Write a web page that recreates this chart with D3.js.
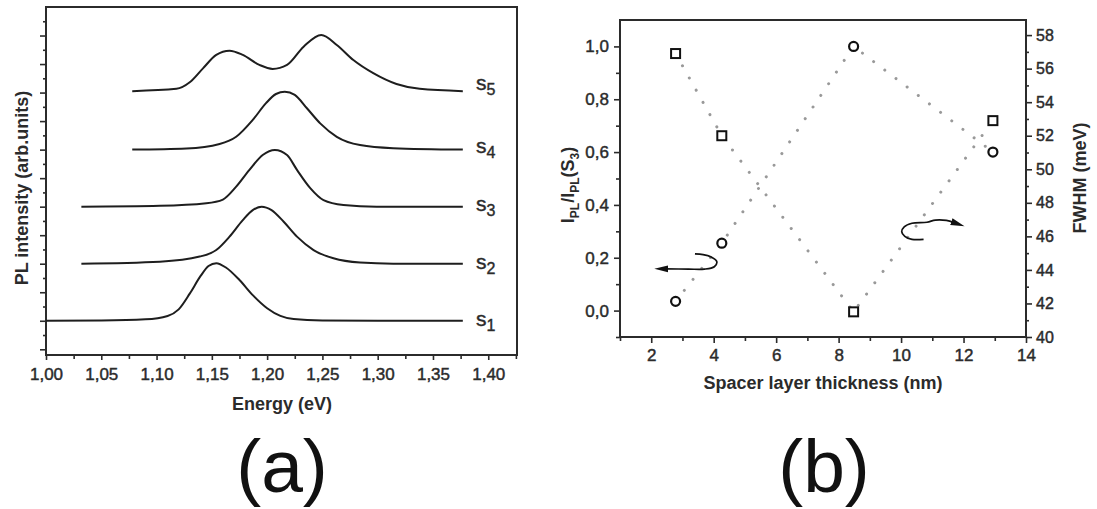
<!DOCTYPE html>
<html>
<head>
<meta charset="utf-8">
<script src="https://cdn.jsdelivr.net/npm/d3@7"></script>
<style>
  body { margin: 0; background: #fff; }
  text { font-family: "Liberation Sans", Arial, sans-serif; }
</style>
</head>
<body>
<div id="chart-area"></div>
<script>
// ---- panel (a): PL spectra, [energy eV, intensity arb.units]
var s1 = [[1.00,1.0],[1.05,1.01],[1.09,1.05],[1.11,1.17],[1.12,1.40],[1.13,1.95],[1.14,2.58],[1.147,2.92],[1.154,3.02],
  [1.163,2.86],[1.175,2.43],[1.187,1.90],[1.20,1.44],[1.212,1.17],[1.224,1.06],[1.25,1.01],[1.30,1.0],[1.377,1.0]]
var s2 = [[1.032,3.0],[1.103,3.07],[1.139,3.25],[1.154,3.48],[1.166,3.95],[1.178,4.53],[1.187,4.88],[1.195,5.0],[1.204,4.88],
  [1.215,4.47],[1.227,3.95],[1.242,3.48],[1.26,3.19],[1.284,3.04],[1.314,3.0],[1.377,3.0]]
var s3 = [[1.032,5.0],[1.103,5.03],[1.145,5.12],[1.160,5.25],[1.172,5.70],[1.184,6.29],[1.196,6.81],[1.207,6.99],[1.218,6.81],
  [1.227,6.29],[1.239,5.65],[1.251,5.23],[1.269,5.06],[1.299,5.0],[1.377,5.0]]
var s4 = [[1.078,7.0],[1.127,7.04],[1.157,7.2],[1.172,7.45],[1.187,8.04],[1.199,8.63],[1.208,8.95],[1.216,9.03],[1.225,8.92],
  [1.236,8.45],[1.248,7.92],[1.263,7.45],[1.284,7.16],[1.314,7.05],[1.377,7.0]]
var s5 = [[1.078,9.05],[1.118,9.13],[1.130,9.36],[1.142,9.85],[1.154,10.32],[1.166,10.47],[1.178,10.32],[1.193,9.97],[1.205,9.83],
  [1.218,9.97],[1.233,10.61],[1.249,11.02],[1.263,10.67],[1.278,10.14],[1.296,9.68],[1.317,9.30],[1.338,9.13],[1.377,9.05]]
var spectra = [s1, s2, s3, s4, s5]
var sampleNames = ["1", "2", "3", "4", "5"]
var sampleBase = [1, 3, 5, 7, 9]
var energyTicks = [1.00, 1.05, 1.10, 1.15, 1.20, 1.25, 1.30, 1.35, 1.40]
var energyMinor = [1.025, 1.075, 1.125, 1.175, 1.225, 1.275, 1.325, 1.375, 1.425]
var intensityTicks = [0,1,2,3,4,5,6,7,8,9,10,11]
var intensityMinor = [0.5,1.5,2.5,3.5,4.5,5.5,6.5,7.5,8.5,9.5,10.5,11.5]

// ---- panel (b): ratio and FWHM vs spacer thickness
var thickness = [2.78, 4.26, 8.48, 12.94]
var plRatio = [0.035, 0.255, 1.0, 0.60]
var fwhm = [56.9, 52.0, 41.5, 52.9]
var thickTicks = [2,4,6,8,10,12,14]
var thickMinor = [1,3,5,7,9,11,13]
var ratioTicks = [0, 0.2, 0.4, 0.6, 0.8, 1.0]
var ratioMinor = [-0.1, 0.1, 0.3, 0.5, 0.7, 0.9]
var fwhmTicks = [40,42,44,46,48,50,52,54,56,58]
var fwhmMinor = [41,43,45,47,49,51,53,55,57]
// hand drawn arrows: [thickness, value]
var arrowLeft = [[3.40,0.215],[3.66,0.212],[3.92,0.203],[4.10,0.185],[4.02,0.166],[3.70,0.157],[3.2,0.157],[2.45,0.158]]
var arrowRight = [[10.72,45.82],[10.35,45.82],[10.12,46.0],[10.02,46.28],[10.10,46.57],[10.35,46.78],[10.83,46.84],
  [11.10,46.97],[11.45,46.95],[11.70,46.82]]

var svg = d3.select("#chart-area").append("svg")
    .attr("width", 1097)
    .attr("height", 509)

var defs = svg.append("defs")
defs.append("marker")
    .attr("id", "head")
    .attr("markerUnits", "userSpaceOnUse")
    .attr("markerWidth", 16).attr("markerHeight", 10)
    .attr("refX", 3).attr("refY", 5)
    .attr("orient", "auto")
  .append("path")
    .attr("d", "M0,1.5 L14,5 L0,8.5 Z")
    .attr("fill", "#111")

var ink = "#2b2b2b"

function styleAxis(g, size) {
  g.select(".domain").remove()
  g.selectAll(".tick line").attr("stroke", ink).attr("stroke-width", 1.6)
  g.selectAll(".tick text").attr("fill", ink)
    .attr("stroke", ink).attr("stroke-width", 0.45)
    .style("font-size", size + "px")
}

// ================= panel (a)
var ax = d3.scaleLinear().domain([1.0, 1.426]).range([46, 517])
var ay = d3.scaleLinear().domain([-0.2, 12]).range([355, 7])
var ga = svg.append("g")

ga.append("g")
    .attr("transform", "translate(0,355)")
    .call(d3.axisBottom(ax).tickValues(energyTicks).tickSize(5).tickPadding(8)
      .tickFormat(function(d){ return d3.format(".2f")(d).replace(".", ","); }))
    .call(styleAxis, 17)
ga.append("g")
    .attr("transform", "translate(0,355)")
    .call(d3.axisBottom(ax).tickValues(energyMinor).tickSize(4).tickFormat(""))
    .call(styleAxis, 17)
ga.append("g")
    .attr("transform", "translate(46,0)")
    .call(d3.axisLeft(ay).tickValues(intensityTicks).tickSize(6).tickFormat(""))
    .call(styleAxis, 17)
ga.append("g")
    .attr("transform", "translate(46,0)")
    .call(d3.axisLeft(ay).tickValues(intensityMinor).tickSize(3).tickFormat(""))
    .call(styleAxis, 17)

ga.append("rect")
    .attr("x", 46).attr("y", 7)
    .attr("width", 517 - 46).attr("height", 355 - 7)
    .attr("fill", "none").attr("stroke", ink).attr("stroke-width", 2)

var specLine = d3.line()
    .x(function(d){ return ax(d[0]); })
    .y(function(d){ return ay(d[1]); })
    .curve(d3.curveMonotoneX)

ga.selectAll(".spec")
    .data(spectra)
  .enter().append("path")
    .attr("class", "spec")
    .attr("d", specLine)
    .attr("fill", "none")
    .attr("stroke", "#1e1e1e")
    .attr("stroke-width", 2)

var labOff = [5, 5, 4, 3, -3]
sampleNames.forEach(function(n, i){
  var t = ga.append("text")
      .attr("x", 476)
      .attr("y", ay(sampleBase[i]) + labOff[i])
      .attr("fill", ink)
      .attr("stroke", ink).attr("stroke-width", 0.4)
      .style("font-size", "21px")
  t.append("tspan").text("s")
  t.append("tspan").attr("dy", 5).style("font-size", "16px").text(n)
})

ga.append("text")
    .attr("x", 282).attr("y", 410)
    .attr("text-anchor", "middle")
    .attr("fill", ink)
    .style("font-size", "18px").style("font-weight", "bold")
    .text("Energy (eV)")
ga.append("text")
    .attr("transform", "translate(28,188) rotate(-90)")
    .attr("text-anchor", "middle")
    .attr("fill", ink)
    .style("font-size", "18px").style("font-weight", "bold")
    .text("PL intensity (arb.units)")

// ================= panel (b)
var bx = d3.scaleLinear().domain([1, 14]).range([620, 1026])
var byL = d3.scaleLinear().domain([-0.1, 1.1]).range([337, 20])
var byR = d3.scaleLinear().domain([40, 58.9]).range([337, 20])
var gb = svg.append("g")

gb.append("g")
    .attr("transform", "translate(0,337)")
    .call(d3.axisBottom(bx).tickValues(thickTicks).tickSize(6).tickPadding(6).tickFormat(d3.format("d")))
    .call(styleAxis, 17)
gb.append("g")
    .attr("transform", "translate(0,337)")
    .call(d3.axisBottom(bx).tickValues(thickMinor).tickSize(4).tickFormat(""))
    .call(styleAxis, 17)
gb.append("g")
    .attr("transform", "translate(620,0)")
    .call(d3.axisLeft(byL).tickValues(ratioTicks).tickSize(6).tickPadding(5)
      .tickFormat(function(d){ return d3.format(".1f")(d).replace(".", ","); }))
    .call(styleAxis, 17)
gb.append("g")
    .attr("transform", "translate(620,0)")
    .call(d3.axisLeft(byL).tickValues(ratioMinor).tickSize(4).tickFormat(""))
    .call(styleAxis, 17)
gb.append("g")
    .attr("transform", "translate(1026,0)")
    .call(d3.axisRight(byR).tickValues(fwhmTicks).tickSize(6).tickPadding(4).tickFormat(d3.format("d")))
    .call(styleAxis, 16)
gb.append("g")
    .attr("transform", "translate(1026,0)")
    .call(d3.axisRight(byR).tickValues(fwhmMinor).tickSize(3).tickFormat(""))
    .call(styleAxis, 16)

gb.append("rect")
    .attr("x", 620).attr("y", 20)
    .attr("width", 1026 - 620).attr("height", 337 - 20)
    .attr("fill", "none").attr("stroke", ink).attr("stroke-width", 2)

var ratioLine = d3.line()
    .x(function(d, i){ return bx(thickness[i]); })
    .y(function(d){ return byL(d); })
var fwhmLine = d3.line()
    .x(function(d, i){ return bx(thickness[i]); })
    .y(function(d){ return byR(d); })

gb.append("path").datum(plRatio)
    .attr("d", ratioLine)
    .attr("fill", "none").attr("stroke", "#999")
    .attr("stroke-width", 3).attr("stroke-linecap", "round")
    .attr("stroke-dasharray", "0.01 14")
gb.append("path").datum(fwhm)
    .attr("d", fwhmLine)
    .attr("fill", "none").attr("stroke", "#999")
    .attr("stroke-width", 3).attr("stroke-linecap", "round")
    .attr("stroke-dasharray", "0.01 14")

gb.selectAll(".sq")
    .data(fwhm)
  .enter().append("rect")
    .attr("class", "sq")
    .attr("x", function(d, i){ return bx(thickness[i]) - 4.5; })
    .attr("y", function(d){ return byR(d) - 4.5; })
    .attr("width", 9).attr("height", 9)
    .attr("fill", "#fff").attr("stroke", "#111").attr("stroke-width", 2)

gb.selectAll(".ci")
    .data(plRatio)
  .enter().append("circle")
    .attr("class", "ci")
    .attr("cx", function(d, i){ return bx(thickness[i]); })
    .attr("cy", function(d){ return byL(d); })
    .attr("r", 4.5)
    .attr("fill", "#fff").attr("stroke", "#111").attr("stroke-width", 2.2)

var arrowLineL = d3.line()
    .x(function(d){ return bx(d[0]); })
    .y(function(d){ return byL(d[1]); })
    .curve(d3.curveCatmullRom)
var arrowLineR = d3.line()
    .x(function(d){ return bx(d[0]); })
    .y(function(d){ return byR(d[1]); })
    .curve(d3.curveCatmullRom)

gb.append("path").datum(arrowLeft)
    .attr("d", arrowLineL)
    .attr("fill", "none").attr("stroke", "#111").attr("stroke-width", 1.7)
    .attr("marker-end", "url(#head)")
gb.append("path").datum(arrowRight)
    .attr("d", arrowLineR)
    .attr("fill", "none").attr("stroke", "#111").attr("stroke-width", 1.7)
    .attr("marker-end", "url(#head)")

gb.append("text")
    .attr("x", 823).attr("y", 389)
    .attr("text-anchor", "middle")
    .attr("fill", ink)
    .style("font-size", "18px").style("font-weight", "bold")
    .text("Spacer layer thickness (nm)")

var yl = gb.append("text")
    .attr("transform", "translate(574,185) rotate(-90)")
    .attr("text-anchor", "middle")
    .attr("fill", ink)
    .style("font-size", "18px").style("font-weight", "bold")
yl.append("tspan").text("I")
yl.append("tspan").attr("dy", 5).style("font-size", "12px").text("PL")
yl.append("tspan").attr("dy", -5).text("/I")
yl.append("tspan").attr("dy", 5).style("font-size", "12px").text("PL")
yl.append("tspan").attr("dy", -5).text("(S")
yl.append("tspan").attr("dy", 5).style("font-size", "12px").text("3")
yl.append("tspan").attr("dy", -5).text(")")

gb.append("text")
    .attr("transform", "translate(1086,178) rotate(-90)")
    .attr("text-anchor", "middle")
    .attr("fill", ink)
    .style("font-size", "18px").style("font-weight", "bold")
    .text("FWHM (meV)")

// ---- panel letters
svg.append("text")
    .attr("x", 282).attr("y", 492)
    .attr("text-anchor", "middle")
    .attr("fill", "#111")
    .style("font-size", "75px")
    .text("(a)")
svg.append("text")
    .attr("x", 824).attr("y", 492)
    .attr("text-anchor", "middle")
    .attr("fill", "#111")
    .style("font-size", "75px")
    .text("(b)")
</script>
</body>
</html>
